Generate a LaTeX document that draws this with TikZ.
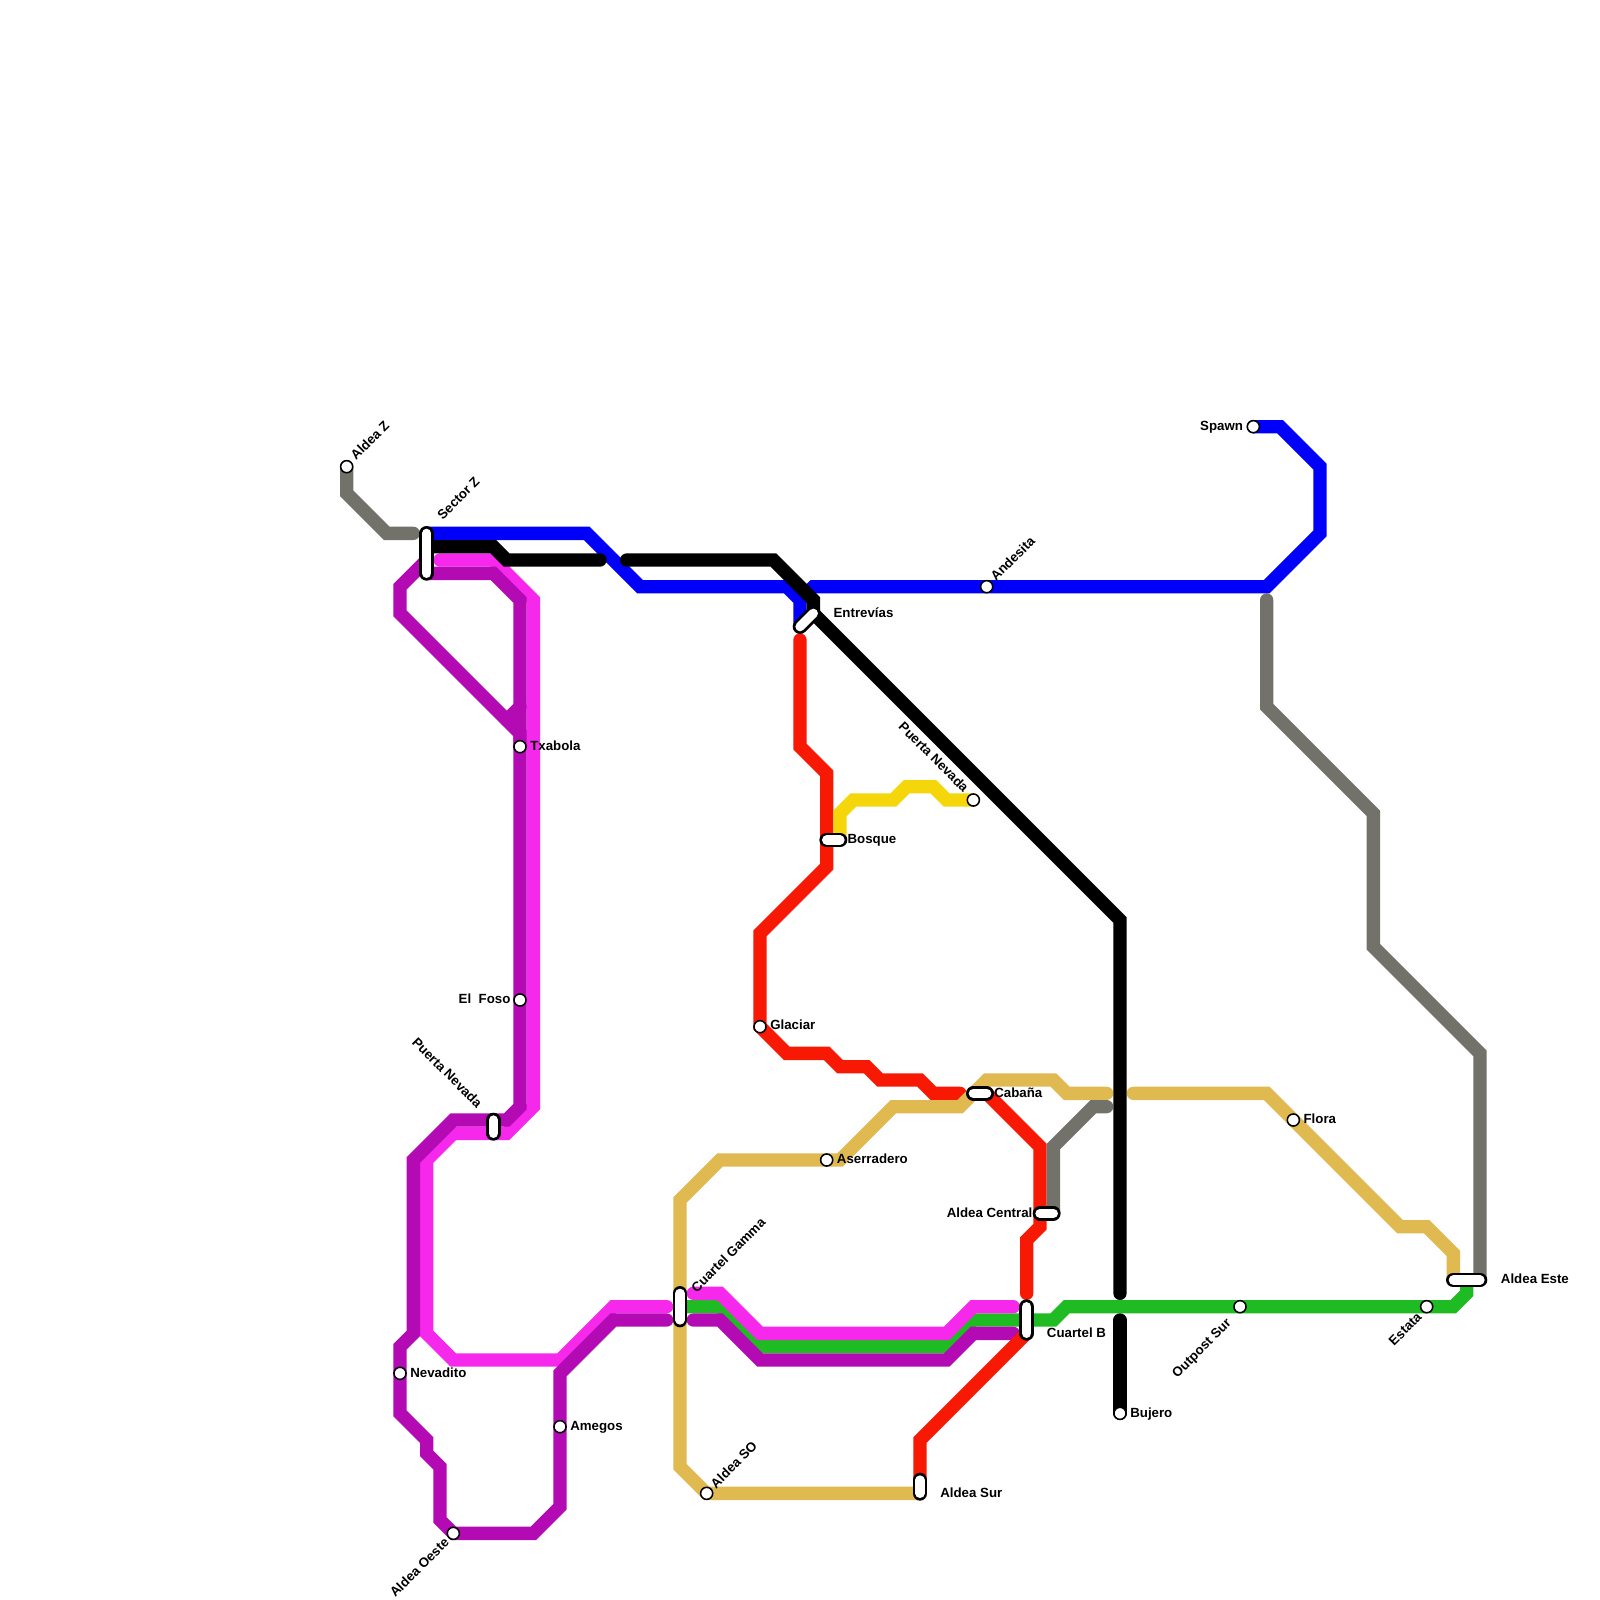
\documentclass[tikz,border=0pt]{standalone}
\usepackage{fontspec}
\setmainfont{Liberation Sans}
\usetikzlibrary{backgrounds}
\definecolor{linegray}{HTML}{72716A}
\definecolor{lineblue}{HTML}{0000FA}
\definecolor{linered}{HTML}{F71904}
\definecolor{linepink}{HTML}{F628EC}
\definecolor{linepurple}{HTML}{B30AB3}
\definecolor{linegold}{HTML}{E0B950}
\definecolor{lineyellow}{HTML}{F5D60A}
\definecolor{linegreen}{HTML}{1FBB22}
\tikzset{
  metro/.style={line width=9.48pt,line cap=round,line join=miter,miter limit=4},
  stop/.style={circle,draw=black,fill=white,line width=1.1pt,minimum size=8.6pt,inner sep=0pt},
  pill/.style={draw=black,line width=1.9pt,double=white,double distance=6.6pt,line cap=round},
  name label/.style={font=\bfseries\fontsize{9.45pt}{10pt}\selectfont,inner sep=0pt,text height=1.45ex,text depth=.2ex}
}
\begin{document}
\begin{tikzpicture}[x=1cm/3,y=-1cm/3]
\useasboundingbox (0,0) rectangle (120,120);

\coordinate (sectorza) at (32,40);
\coordinate (sectorzb) at (32,43);
\coordinate (nevadaa) at (37,84);
\coordinate (nevadab) at (37,85);
\coordinate (gammaa) at (51,97);
\coordinate (gammab) at (51,99);
\coordinate (entreviasa) at (60,47);
\coordinate (entreviasb) at (61,46);
\coordinate (bosquea) at (62,63);
\coordinate (bosqueb) at (63,63);
\coordinate (cabanaa) at (73,82);
\coordinate (cabanab) at (74,82);
\coordinate (centrala) at (78,91);
\coordinate (centralb) at (79,91);
\coordinate (cuartelba) at (77,98);
\coordinate (cuartelbb) at (77,100);
\coordinate (aldeasura) at (69,111);
\coordinate (aldeasurb) at (69,112);
\coordinate (estea) at (109,96);
\coordinate (esteb) at (111,96);

\node[stop] (aldeaz) at (26,35) {};
\node[stop] (txabola) at (39,56) {};
\node[stop] (foso) at (39,75) {};
\node[stop] (nevadito) at (30,103) {};
\node[stop] (amegos) at (42,107) {};
\node[stop] (oeste) at (34,115) {};
\node[stop] (aldeaso) at (53,112) {};
\node[stop] (glaciar) at (57,77) {};
\node[stop] (aserradero) at (62,87) {};
\node[stop] (nevadanorte) at (73,60) {};
\node[stop] (andesita) at (74,44) {};
\node[stop] (spawn) at (94,32) {};
\node[stop] (flora) at (97,84) {};
\node[stop] (bujero) at (84,106) {};
\node[stop] (outpost) at (93,98) {};
\node[stop] (estata) at (107,98) {};

\draw[pill] (sectorza)--(sectorzb);
\draw[pill] (nevadaa)--(nevadab);
\draw[pill] (gammaa)--(gammab);
\draw[pill] (entreviasa)--(entreviasb);
\draw[pill] (bosquea)--(bosqueb);
\draw[pill] (cabanaa)--(cabanab);
\draw[pill] (centrala)--(centralb);
\draw[pill] (cuartelba)--(cuartelbb);
\draw[pill] (aldeasura)--(aldeasurb);
\draw[pill] (estea)--(esteb);

\node[name label,rotate=45,anchor=west] (laldeaz) at (26.45,34.3) {Aldea Z};
\node[name label,rotate=45,anchor=west] (lsectorz) at (32.95,38.8) {Sector Z};
\node[name label,anchor=west] (ltxabola) at (39.75,55.95) {Txabola};
\node[name label,anchor=east] (lfoso) at (38.3,74.95) {El\ \ Foso};
\node[name label,rotate=-45,anchor=east] (lnevada) at (36,82.9) {Puerta Nevada};
\node[name label,anchor=west] (lnevadito) at (30.75,102.95) {Nevadito};
\node[name label,anchor=west] (lamegos) at (42.75,106.95) {Amegos};
\node[name label,rotate=45,anchor=east] (loeste) at (33.5,115.5) {Aldea Oeste};
\node[name label,rotate=45,anchor=west] (lgamma) at (52,96.75) {Cuartel Gamma};
\node[name label,rotate=45,anchor=west] (laldeaso) at (53.45,111.45) {Aldea SO};
\node[name label,anchor=west] (laldeasur) at (70.5,111.95) {Aldea Sur};
\node[name label,anchor=west] (lcuartelb) at (78.5,99.95) {Cuartel B};
\node[name label,anchor=west] (lbujero) at (84.75,105.95) {Bujero};
\node[name label,anchor=east] (lcentral) at (77.45,90.95) {Aldea Central};
\node[name label,anchor=west] (lcabana) at (74.55,81.95) {Cabaña};
\node[name label,anchor=west] (laserradero) at (62.75,86.95) {Aserradero};
\node[name label,anchor=west] (lglaciar) at (57.75,76.9) {Glaciar};
\node[name label,anchor=west] (lbosque) at (63.55,62.95) {Bosque};
\node[name label,anchor=west] (lentrevias) at (62.5,45.95) {Entrevías};
\node[name label,rotate=-45,anchor=east] (lnevadanorte) at (72.5,59.25) {Puerta Nevada};
\node[name label,rotate=45,anchor=west] (landesita) at (74.45,43.4) {Andesita};
\node[name label,anchor=east] (lspawn) at (93.25,31.95) {Spawn};
\node[name label,anchor=west] (lflora) at (97.75,83.95) {Flora};
\node[name label,rotate=45,anchor=east] (loutpost) at (92.15,99.05) {Outpost Sur};
\node[name label,rotate=45,anchor=east] (lestata) at (106.45,98.6) {Estata};
\node[name label,anchor=west] (leste) at (112.55,95.95) {Aldea Este};

\begin{scope}[on background layer]
\draw[metro,linegreen] (51,98)--(54,98)--(57,101)--(71,101)--(73,99)--(79,99)--(80,98)--(109,98)--(110,97)--(110,96);
\draw[metro,linepink] (33,42)--(37,42)--(40,45)--(40,83)--(38,85)--(34,85)--(32,87)--(32,100)--(34,102)--(42,102)--(46,98)--(50,98);
\draw[metro,linepink] (52,97)--(54,97)--(57,100)--(71,100)--(73,98)--(76,98);
\draw[metro,linepurple] (sectorzb)--(37,43)--(39,45)--(39,83)--(38,84)--(nevadaa)--(34,84)--(31,87)--(31,100)--(30,101)--(nevadito.center)--(30,106)--(32,108)--(32,109)--(33,110)--(33,114)--(oeste.center)--(40,115)--(42,113)--(amegos.center)--(42,103)--(46,99)--(50,99);
\draw[metro,linepurple] (52,99)--(54,99)--(57,102)--(71,102)--(73,100)--(76,100);
\draw[metro,linepurple] (32,42)--(30,44)--(30,46)--(39,55)--(txabola.center);
\draw[metro,linepurple] (38,54)--(39,53);
\draw[metro,linered] (60,48)--(60,56)--(62,58)--(62,65)--(57,70)--(glaciar.center)--(59,79)--(62,79)--(63,80)--(65,80)--(66,81)--(69,81)--(70,82)--(72,82);
\draw[metro,linered] (cabanab)--(78,86)--(centrala)--(78,92)--(77,93)--(77,97);
\draw[metro,linered] (cuartelbb)--(69,108)--(aldeasura);
\draw[metro,linegold] (69,112)--(aldeaso.center)--(51,110)--(51,90)--(54,87)--(aserradero.center)--(63,87)--(67,83)--(72,83)--(74,81)--(79,81)--(80,82)--(83,82);
\draw[metro,linegold] (85,82)--(95,82)--(105,92)--(107,92)--(109,94)--(estea);
\draw[metro,lineyellow] (bosqueb)--(63,61)--(64,60)--(67,60)--(68,59)--(70,59)--(71,60)--(nevadanorte.center);
\draw[metro,linegray] (aldeaz.center)--(26,37)--(29,40)--(31,40);
\draw[metro,linegray] (centralb)--(79,86)--(82,83)--(83,83);
\draw[metro,linegray] (95,45)--(95,53)--(103,61)--(103,71)--(111,79)--(esteb);
\draw[metro,lineblue] (sectorza)--(44,40)--(48,44)--(59,44)--(60,45)--(entreviasa);
\draw[metro,lineblue] (60,45)--(61,44)--(95,44)--(99,40)--(99,35)--(96,32)--(spawn.center);
\draw[metro,black] (32,41)--(37,41)--(38,42)--(45,42);
\draw[metro,black] (47,42)--(58,42)--(61,45)--(61,46)--(84,69)--(84,97);
\draw[metro,black] (84,99)--(bujero.center);
\end{scope}
\end{tikzpicture}
\end{document}
